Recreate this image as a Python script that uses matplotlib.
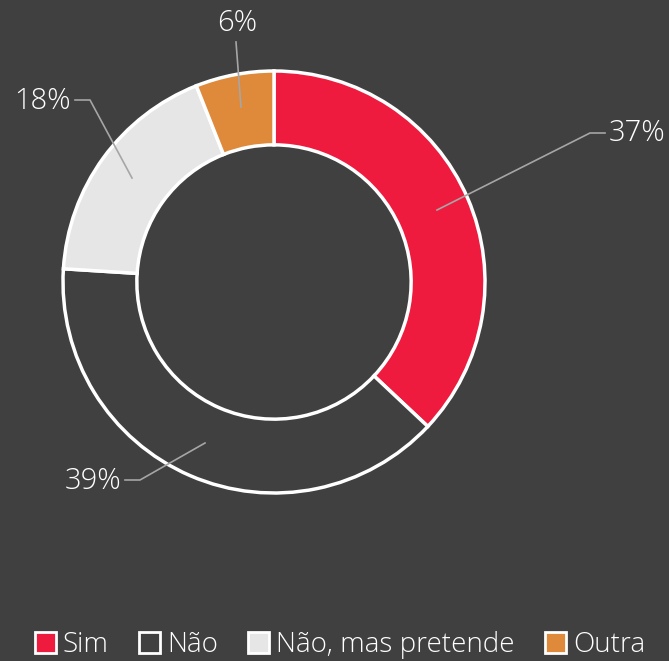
import matplotlib
matplotlib.use("Agg")
from matplotlib import pyplot as plt
from matplotlib.patches import Patch

categories = ["Sim", "Não", "Não, mas pretende", "Outra"]
values = [37, 39, 18, 6]
labels = ["37%", "39%", "18%", "6%"]

bg = "#404040"
colors = ["#EE1B3E", bg, "#E6E6E6", "#DF893A"]

plt.rcParams['font.family'] = ['Open Sans', 'DejaVu Sans']
plt.rcParams['font.weight'] = 'light'

fig = plt.figure(figsize=(6.69, 6.61), dpi=100, facecolor=bg)
ax = fig.add_axes([0, 0, 1, 1])
ax.set_facecolor(bg)

cx, cy, R = 274, 661 - 282, 211
wedges, _ = ax.pie(values, colors=colors, startangle=90, counterclock=False,
                   center=(cx, cy), radius=R, frame=True,
                   wedgeprops=dict(width=R * 0.35, edgecolor='white', linewidth=2.5))
ax.set_xlim(0, 669)
ax.set_ylim(0, 661)
ax.set_aspect('equal')
ax.axis('off')

# leader lines: (point on ring) -> (elbow) -> (end), text position
lead = [
    ((437, 210), (590, 133), (605, 133), (609, 133), 'left'),
    ((205, 443), (140, 480), (125, 480), (121, 481), 'right'),
    ((132, 178), (90, 100), (75, 100), (71, 101), 'right'),
    ((241, 107), (236, 42), (236, 42), (237, 23), 'center'),
]
for lab, (p0, p1, p2, pt, ha) in zip(labels, lead):
    xs = [p0[0], p1[0], p2[0]]
    ys = [661 - p0[1], 661 - p1[1], 661 - p2[1]]
    ax.plot(xs, ys, color='#A6A6A6', lw=1.2)
    ax.text(pt[0], 661 - pt[1], lab, color='white', fontsize=21,
            ha=ha, va='center')

handles = [Patch(facecolor=c, edgecolor='white', linewidth=2) for c in colors]
leg = fig.legend(handles, categories, loc='lower center', ncol=4, frameon=False,
                 bbox_to_anchor=(0.508, -0.035), fontsize=20, handlelength=0.75,
                 handleheight=0.75, handletextpad=0.25, columnspacing=1.1,
                 labelcolor='white')

fig.savefig("out.png", dpi=100, facecolor=bg)
